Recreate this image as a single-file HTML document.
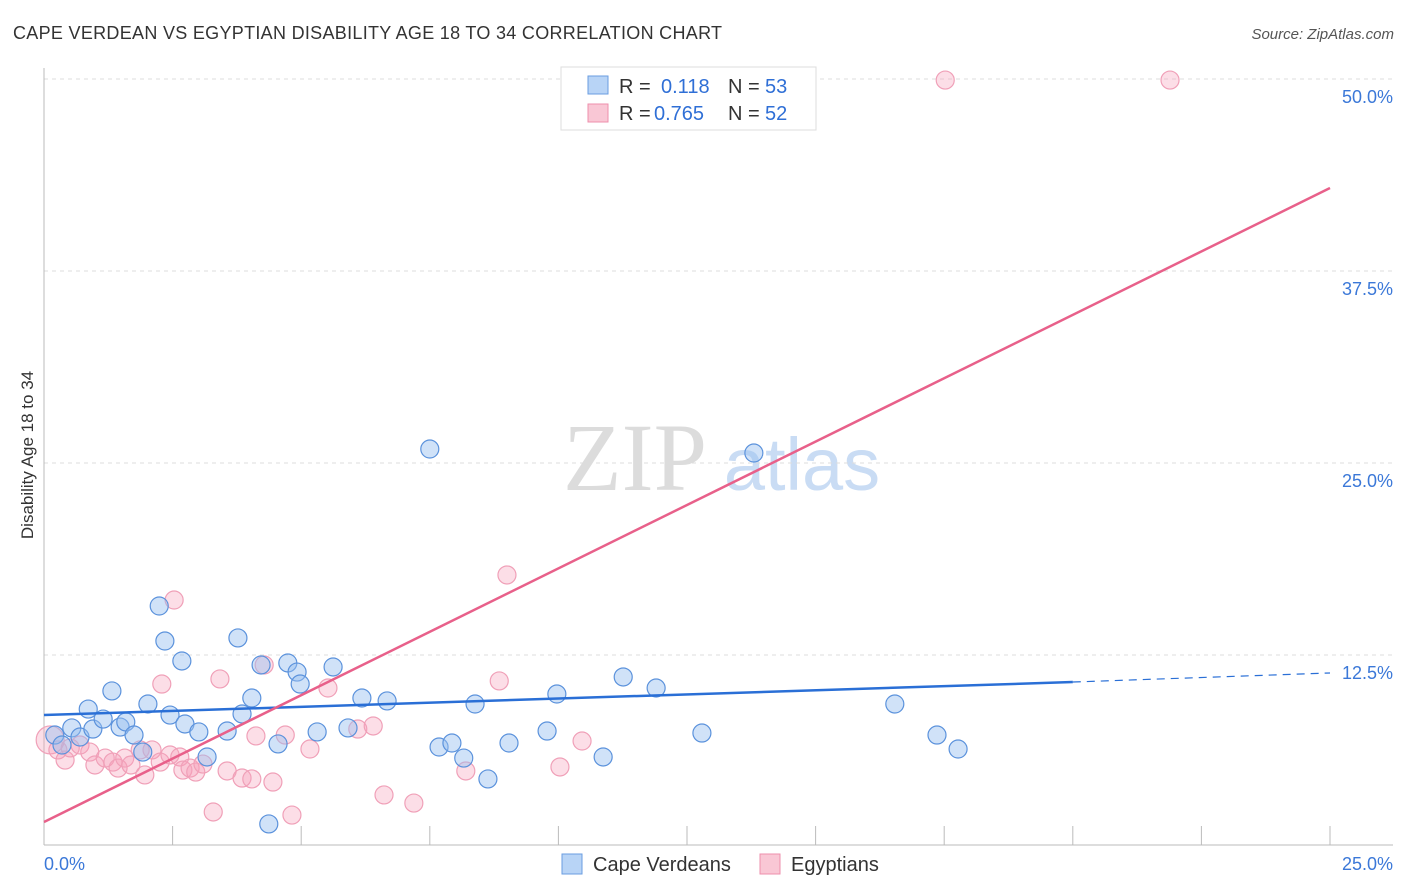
<!DOCTYPE html>
<html><head><meta charset="utf-8"><style>
body{margin:0;background:#fff;font-family:"Liberation Sans",sans-serif;}
svg{display:block}
</style></head><body>
<svg id="chart" width="1406" height="892" xmlns="http://www.w3.org/2000/svg">
<text x="13" y="39" font-size="18" fill="#333" letter-spacing="0.3" font-family="Liberation Sans, sans-serif">CAPE VERDEAN VS EGYPTIAN DISABILITY AGE 18 TO 34 CORRELATION CHART</text>
<text x="1394" y="39" font-size="15" fill="#555" text-anchor="end" font-style="italic">Source: ZipAtlas.com</text>
<g>
<text x="635" y="490" font-size="96" fill="#dcdcdc" text-anchor="middle" font-family="Liberation Serif, serif">ZIP</text>
<text x="802" y="490" font-size="74" fill="#c9dcf4" text-anchor="middle">atlas</text>
</g>
<g id="grid"></g>
<g id="axes"></g>
<g id="pts"></g>
<g id="lines"></g>
<text transform="translate(33,455) rotate(-90)" font-size="17" fill="#333" text-anchor="middle">Disability Age 18 to 34</text>
<g>
<rect x="561" y="67" width="255" height="63" fill="#fff" stroke="#ddd"/>
<rect x="588" y="76" width="20" height="18" fill="#b8d4f6" stroke="#6a9de0"/>
<rect x="588" y="104" width="20" height="18" fill="#f9c7d5" stroke="#ee8fac"/>
<text x="619" y="93" font-size="20" fill="#333">R = </text><text x="661" y="93" font-size="20" fill="#2f6fd6">0.118</text>
<text x="728" y="93" font-size="20" fill="#333">N = </text><text x="765" y="93" font-size="20" fill="#2f6fd6">53</text>
<text x="619" y="120" font-size="20" fill="#333">R = </text><text x="654" y="120" font-size="20" fill="#2f6fd6">0.765</text>
<text x="728" y="120" font-size="20" fill="#333">N = </text><text x="765" y="120" font-size="20" fill="#2f6fd6">52</text>
</g>
<g>
<rect x="562" y="854" width="20" height="20" fill="#b8d4f6" stroke="#6a9de0"/>
<text x="593" y="871" font-size="20" fill="#333">Cape Verdeans</text>
<rect x="760" y="854" width="20" height="20" fill="#f9c7d5" stroke="#ee8fac"/>
<text x="791" y="871" font-size="20" fill="#333">Egyptians</text>
</g>
</svg>
<script>
const yTicks=[12.5,25,37.5,50];
const yTickLabels=["12.5%","25.0%","37.5%","50.0%"];
const xTickCount=10;
const blueX=[0.21,0.35,0.54,0.70,0.86,0.95,1.15,1.32,1.48,1.59,1.75,1.92,2.02,2.24,2.35,2.45,2.68,2.74,3.01,3.17,3.56,3.77,3.85,4.04,4.22,4.37,4.55,4.74,4.92,4.98,5.31,5.62,5.91,6.18,6.67,7.50,7.68,7.93,8.16,8.38,8.63,9.04,9.78,9.97,10.87,11.26,11.90,12.79,13.80,16.54,17.36,17.77];
const blueY=[7.29,6.64,7.75,7.16,8.98,7.68,8.33,10.16,7.81,8.14,7.29,6.18,9.31,15.69,13.41,8.59,12.11,8.01,7.49,5.86,7.55,13.61,8.66,9.70,11.85,1.50,6.71,11.98,11.39,10.61,7.49,11.72,7.75,9.70,9.51,25.91,6.51,6.77,5.79,9.31,4.43,6.77,7.55,9.96,5.86,11.07,10.35,7.42,25.65,9.31,7.29,6.38];
const pinkX=[0.12,0.27,0.41,0.51,0.70,0.89,0.99,1.19,1.34,1.44,1.57,1.69,1.87,1.96,2.10,2.26,2.29,2.45,2.53,2.64,2.70,2.84,2.95,3.09,3.29,3.42,3.56,3.85,4.04,4.12,4.28,4.45,4.69,4.82,5.17,5.52,6.10,6.40,6.61,7.19,8.20,8.85,9.00,10.03,10.46,17.52,21.89];
const pinkY=[6.97,6.32,5.66,6.45,6.64,6.18,5.34,5.79,5.53,5.14,5.79,5.34,6.32,4.69,6.32,5.53,10.61,5.99,16.08,5.86,5.01,5.14,4.88,5.40,2.28,10.94,4.95,4.49,4.43,7.23,11.85,4.23,7.29,2.08,6.38,10.35,7.68,7.88,3.39,2.86,4.95,10.81,17.71,5.21,6.90,49.93,49.93];
const blueTrend=[8.59,10.74,11.33]; // at x=0, 20, 25
const pinkTrend=[1.63,42.9]; // at x=0, 25
const X0=44,X1=1330,Y0=847,PPY=15.36;
const xs=v=>X0+(X1-X0)*v/25, ys=v=>Y0-v*PPY;
const NS="http://www.w3.org/2000/svg";
function mk(tag,attrs,parent){const e=document.createElementNS(NS,tag);for(const k in attrs)e.setAttribute(k,attrs[k]);parent.appendChild(e);return e;}
const grid=document.getElementById('grid'),axes=document.getElementById('axes'),pts=document.getElementById('pts'),lines=document.getElementById('lines');
yTicks.forEach((t,i)=>{
 const l=mk('line',{x1:X0,x2:1393,y1:ys(t),y2:ys(t),stroke:'#ddd','stroke-dasharray':'4,4'},grid);
 
 
 const tx=mk('text',{x:1393,y:ys(t)+24,'font-size':18,fill:'#3b78d8','text-anchor':'end'},grid);
 tx.textContent=yTickLabels[i];
 
 
});
const ya=mk('line',{x1:X0,x2:X0,y1:68,y2:845,stroke:'#bbb'},axes);


const xa=mk('line',{x1:X0,x2:1393,y1:845,y2:845,stroke:'#bbb'},axes);


for(let i=1;i<=xTickCount;i++){const v=25*i/xTickCount;
 const t=mk('line',{x1:xs(v),x2:xs(v),y1:826,y2:845,stroke:'#bbb'},axes);
 
 }
const xl0=mk('text',{x:44,y:870,'font-size':18,fill:'#3b78d8'},axes);xl0.textContent='0.0%';


const xl1=mk('text',{x:1393,y:870,'font-size':18,fill:'#3b78d8','text-anchor':'end'},axes);xl1.textContent='25.0%';


pinkX.forEach((x,i)=>{
 const c=mk('circle',{cx:xs(x),cy:ys(pinkY[i]),r:i===0?14:9,fill:'rgba(245,160,185,0.35)',stroke:'#f0a0b8','stroke-width':1.2},pts);
 
 
});
blueX.forEach((x,i)=>{
 const c=mk('circle',{cx:xs(x),cy:ys(blueY[i]),r:9,fill:'rgba(150,190,240,0.45)',stroke:'#5b92dc','stroke-width':1.2},pts);
 
 
});
const bl=mk('line',{x1:xs(0),y1:ys(blueTrend[0]),x2:xs(20),y2:ys(blueTrend[1]),stroke:'#2a6fd6','stroke-width':2.5},lines);


const bd=mk('line',{x1:xs(20),y1:ys(blueTrend[1]),x2:xs(25),y2:ys(blueTrend[2]),stroke:'#2a6fd6','stroke-width':1.2,'stroke-dasharray':'8,6'},lines);


const pl=mk('line',{x1:xs(0),y1:ys(pinkTrend[0]),x2:xs(25),y2:ys(pinkTrend[1]),stroke:'#e8608a','stroke-width':2.5},lines);


</script>
</body></html>
